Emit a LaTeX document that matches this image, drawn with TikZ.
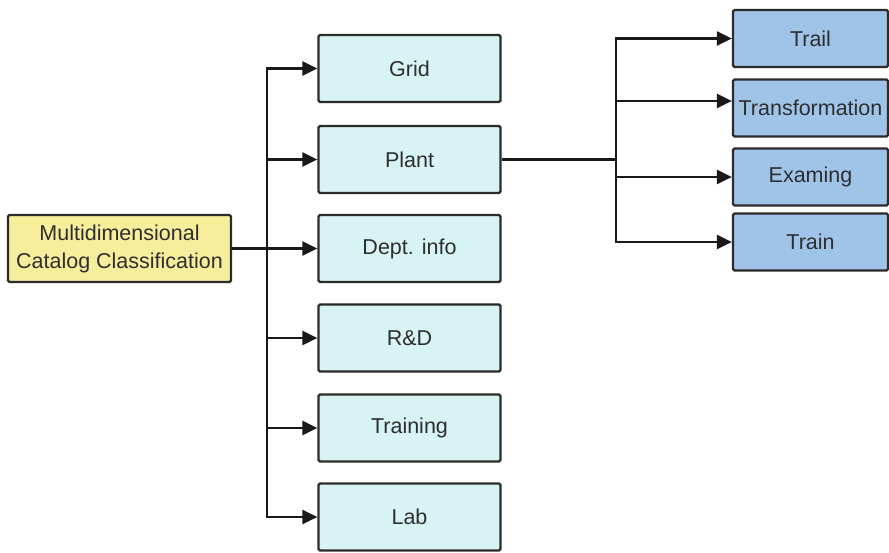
\documentclass[tikz,border=0pt]{standalone}
\usepackage{fontspec}
\setmainfont{Liberation Sans}
\usetikzlibrary{arrows.meta}
\definecolor{rootfill}{HTML}{F7EE9C}
\definecolor{midfill}{HTML}{D7F3F3}
\definecolor{leaffill}{HTML}{9FC4E7}
\definecolor{edge}{HTML}{2B2B2B}
\definecolor{ink}{HTML}{2E2E2E}
\begin{document}
\begin{tikzpicture}[x=1pt,y=-1pt,
  box/.style={draw=edge,line width=2.2pt,rounded corners=1.5pt,inner sep=0pt,
    text=ink,font=\fontsize{21.5}{28}\selectfont,align=center},
  rootbox/.style={box,fill=rootfill,minimum width=223pt,minimum height=67pt},
  midbox/.style={box,fill=midfill,minimum width=182pt,minimum height=67pt},
  leafbox/.style={box,fill=leaffill,minimum width=155pt,minimum height=57pt},
  link/.style={draw=black!90,line width=2.6pt},
  arr/.style={link,-{Triangle[length=15pt,width=14pt]}}]
\useasboundingbox (0,0) rectangle (889,552);

% root and first level
\node[rootbox] (root) at (119.5,248.5) {Multidimensional\\Catalog Classification};
\node[midbox] (grid)  at (409.5,68.5)  {Grid};
\node[midbox] (plant) at (409.5,159.5) {Plant};
\node[midbox] (dept)  at (409.5,248.5) {Dept. info};
\node[midbox] (rd)    at (409.5,338)   {R\&D};
\node[midbox] (train) at (409.5,428)   {Training};
\node[midbox] (lab)   at (409.5,517)   {Lab};

% second level under Plant
\node[leafbox] (trail)  at (810.5,38.5) {Trail};
\node[leafbox] (transf) at (810.5,108)  {Transformation};
\node[leafbox] (exam)   at (810.5,177)  {Examing};
\node[leafbox] (trn)    at (810.5,242)  {Train};

% trunk from the root
\coordinate (trunk) at (267,248.5);
\draw[link] (root.east) -- (trunk);
\foreach \m in {grid,plant,dept,rd,train,lab}
  \draw[arr] (trunk) |- (\m.west);

% branch from Plant
\coordinate (hub) at (616,159.5);
\draw[link] (plant.east) -- (hub);
\draw[arr] (hub) |- (trail.west);
\draw[arr] (hub) |- ([yshift=7pt]transf.west);
\draw[arr] (hub) |- (exam.west);
\draw[arr] (hub) |- (trn.west);
\end{tikzpicture}
\end{document}
